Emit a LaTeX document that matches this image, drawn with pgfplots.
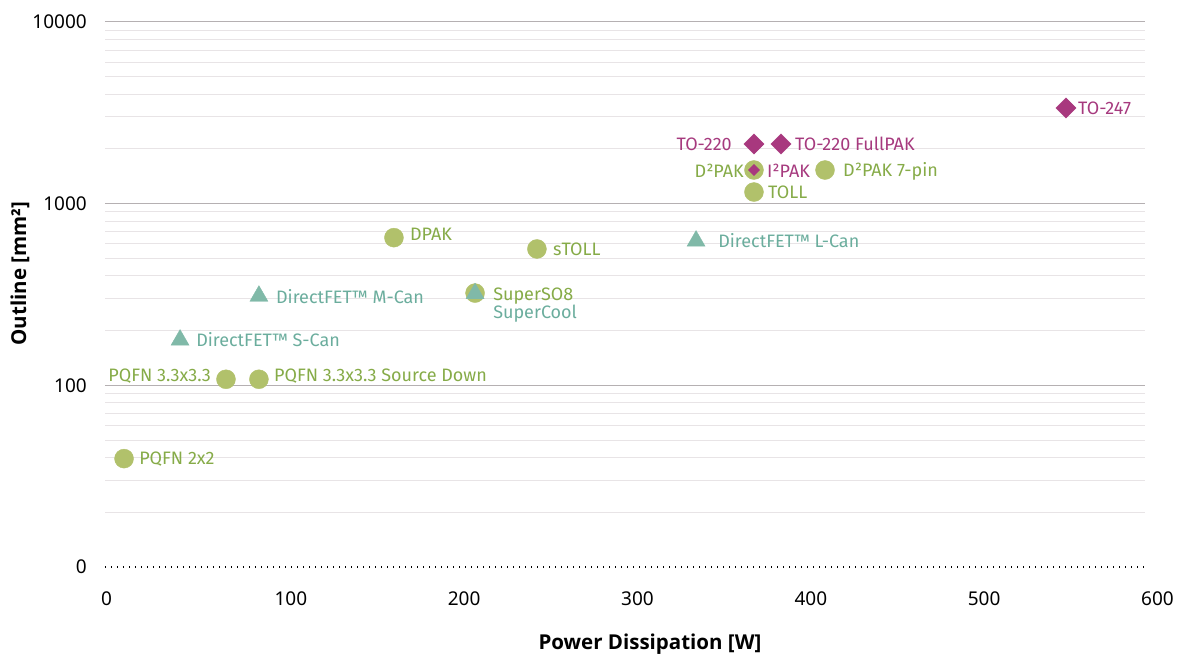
\documentclass[border=0pt]{standalone}
\usepackage{fontspec}
\setmainfont{Fira Sans}
\newfontfamily\tickfont{Noto Sans}
\newfontfamily\titlefont{Open Sans}
\usepackage{pgfplots}
\pgfplotsset{compat=1.18}
\definecolor{gmark}{HTML}{B1C16B}
\definecolor{gtext}{HTML}{86AB48}
\definecolor{tmark}{HTML}{80B9A8}
\definecolor{ttext}{HTML}{6BAD9D}
\definecolor{mmark}{HTML}{A8387E}
\definecolor{mtext}{HTML}{A63A7E}
\definecolor{majgrid}{HTML}{B5B0B2}
\definecolor{mingrid}{HTML}{E8E4E6}
\newcommand\lbl{\fontsize{18bp}{21bp}\selectfont}
\newcommand\tck{\tickfont\fontsize{19bp}{22bp}\selectfont}
\newcommand\ttl{\titlefont\bfseries\fontsize{20.5bp}{24bp}\selectfont}
\pgfplotsset{
  labelled/.style={
    nodes near coords, point meta=explicit symbolic,
    visualization depends on={value \thisrow{dx}\as\dx},
    visualization depends on={value \thisrow{dy}\as\dy},
    visualization depends on={value \thisrow{anc}\as\anc},
    every node near coord/.append style={anchor=\anc, xshift=\dx bp, yshift=\dy bp, inner sep=0pt, text=#1, font=\lbl},
  },
}
\begin{document}
\begin{tikzpicture}
\begin{axis}[
  scale only axis, width=1040bp, height=545bp,
  ymode=log, xmin=0, xmax=600, ymin=10, ymax=10000,
  clip=false,
  axis x line*=bottom, axis y line*=left,
  x axis line style={-, black, line width=1.3bp, dash pattern=on 1.3bp off 4.7bp},
  y axis line style={draw=none},
  xtick={0,100,200,300,400,500,600}, xticklabels={0,100,200,300,400,500,600},
  ytick={100,1000,10000}, yticklabels={100,1000,10000},
  extra y ticks={10}, extra y tick labels={0}, extra y tick style={grid=none},
  minor ytick={20,30,40,50,60,70,80,90,200,300,400,500,600,700,800,900,2000,3000,4000,5000,6000,7000,8000,9000},
  ymajorgrids, yminorgrids,
  major grid style={majgrid, line width=1bp},
  minor grid style={mingrid, line width=1bp},
  major tick length=0pt, minor tick length=0pt,
  xticklabel style={font=\tck, inner sep=0pt, anchor=base west, xshift=-4bp, yshift=-39bp},
  yticklabel style={font=\tck, inner sep=0pt, anchor=east, xshift=-18bp},
  xlabel={Power Dissipation [W]}, ylabel={Outline [mm²]},
  xlabel style={font=\ttl, at={(axis description cs:0.524,-0.141)}, anchor=center},
  ylabel style={font=\ttl, at={(axis description cs:-0.0817,0.538)}, anchor=center},
]
% green circles
\addplot[only marks, mark=*, mark size=9.5bp, color=gmark, labelled=gtext]
 table[col sep=comma, x=x, y=y, meta=label] {
x,y,dx,dy,anc,label
11,39.5,15,0,west,PQFN 2x2
69.8,108,-15,3,east,PQFN 3.3x3.3
88.8,108,15,3,west,PQFN 3.3x3.3 Source Down
166.7,650,16,3,west,DPAK
213.5,322,18,-3,west,SuperSO8
249.2,563,16,0,west,sTOLL
374.4,1532,-10,-1,east,D²PAK
374.4,1159,14,0,west,TOLL
415.4,1532,18,-1,west,D²PAK 7-pin
};
% teal triangles
\addplot[only marks, mark=triangle*, mark size=10.4bp, color=tmark, labelled=ttext]
 table[col sep=comma, x=x, y=y, meta=label] {
x,y,dx,dy,anc,label
43.3,177.7,16,0,west,DirectFET™ S-Can
88.8,310,17,-1,west,DirectFET™ M-Can
213.5,320,18,-20,west,SuperCool
341,623,22,0,west,DirectFET™ L-Can
};
% magenta diamonds
\addplot[only marks, mark=square*, mark size=7.1bp, mark options={rotate=45}, color=mmark, labelled=mtext]
 table[col sep=comma, x=x, y=y, meta=label] {
x,y,dx,dy,anc,label
374.4,2130,-22,0,east,TO-220
390,2130,14,0,west,TO-220 FullPAK
554.4,3363,12,0,west,TO-247
};
\addplot[only marks, mark=square*, mark size=4bp, mark options={rotate=45}, color=mmark, labelled=mtext]
 table[col sep=comma, x=x, y=y, meta=label] {
x,y,dx,dy,anc,label
374.4,1532,13,-1,west,I²PAK
};
\end{axis}
\pgfresetboundingbox
\path (-105bp,-92bp) rectangle (1073bp,567bp);
\end{tikzpicture}
\end{document}
